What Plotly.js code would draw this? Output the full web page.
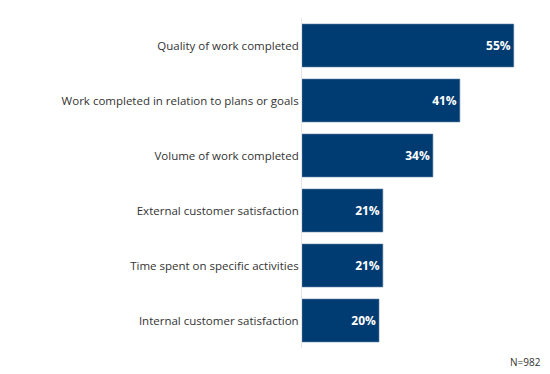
<!DOCTYPE html>
<html><head><meta charset="utf-8">
<script src="https://cdn.plot.ly/plotly-3.0.1.min.js"></script>
<style>html,body{margin:0;padding:0;background:#fff}#chart{width:550px;height:374px}</style>
</head><body><div id="chart"></div>
<script>
const categories = ["Quality of work completed","Work completed in relation to plans or goals","Volume of work completed","External customer satisfaction","Time spent on specific activities","Internal customer satisfaction"];
const values = [55, 41, 34, 21, 21, 20];
const valueLabels = ["55%","41%","34%","21%","21%","20%"];
const note = "N=982";

const trace = {
  type: "bar", orientation: "h",
  y: categories, x: values,
  text: valueLabels, textposition: "inside", insidetextanchor: "end",
  textfont: {family: "Open Sans", size: 12, color: "#ffffff", weight: 700},
  marker: {color: "#003b71", line: {color: "#5a7ea3", width: 0.6}},
  width: 0.78, hoverinfo: "skip", cliponaxis: false
};
const layout = {
  width: 550, height: 374,
  margin: {l: 302, r: 17, t: 18, b: 26},
  paper_bgcolor: "#fff", plot_bgcolor: "#fff",
  showlegend: false,
  font: {family: "Open Sans", size: 11.5, color: "#333"},
  xaxis: {range: [0, 60], showgrid: false, zeroline: false, showticklabels: false, showline: false, fixedrange: true},
  yaxis: {autorange: "reversed", showgrid: false, zeroline: false, showline: true, linecolor: "#e6e6e6", linewidth: 1,
          ticks: "", ticklabelstandoff: 0, tickfont: {family: "Open Sans", size: 11.5, color: "#333"}},
  annotations: [{text: note, xref: "paper", yref: "paper", x: 1.043, y: -0.042, xanchor: "right", yanchor: "middle",
                 showarrow: false, font: {family: "Open Sans", size: 10, color: "#333"}}]
};
Plotly.newPlot("chart", [trace], layout, {displayModeBar: false, staticPlot: true});
</script></body></html>
